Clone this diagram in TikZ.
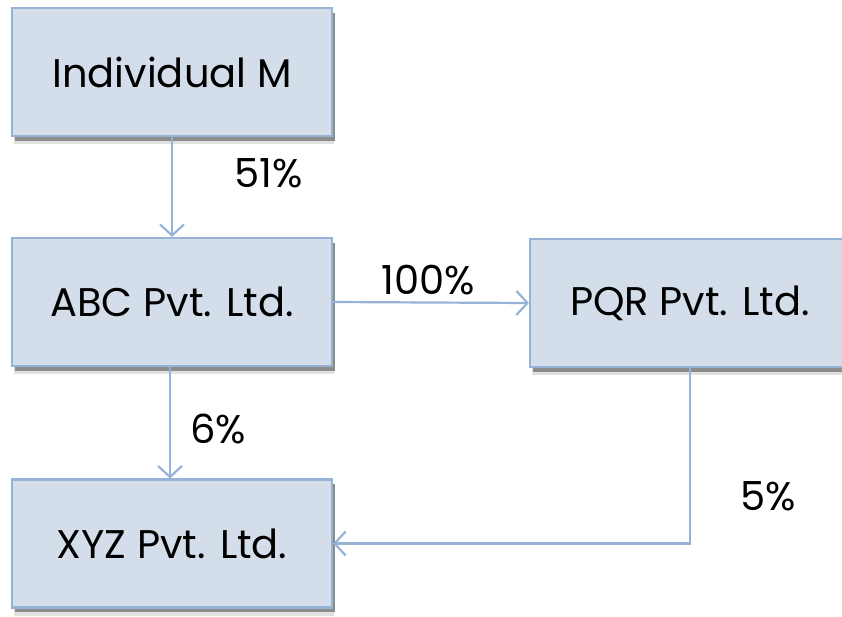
\documentclass[tikz,border=0pt]{standalone}
\usepackage{fontspec}
\setmainfont{Poppins}
\usetikzlibrary{arrows.meta}
\definecolor{boxfill}{RGB}{211,222,234}
\definecolor{boxline}{RGB}{149,179,215}
\definecolor{shadowdark}{RGB}{140,140,140}
\definecolor{shadowlight}{RGB}{225,225,225}
\tikzset{
  entity/.style={draw=boxline, fill=boxfill, line width=2.2pt, minimum width=320pt,
    minimum height=128pt, inner sep=0pt, font=\fontsize{40}{44}\selectfont,
    preaction={fill=shadowlight, draw=none, transform canvas={xshift=2pt, yshift=-8pt}},
    preaction={fill=shadowdark, draw=none, transform canvas={xshift=3pt, yshift=-4.5pt}}},
  link/.style={draw=boxline, line width=2.2pt, -{Straight Barb[length=11pt, width=24pt, line width=2.2pt]}},
  share/.style={font=\fontsize{40}{44}\selectfont, inner sep=0pt}
}
\begin{document}
\begin{tikzpicture}[x=1pt, y=-1pt]
  \useasboundingbox (0,0) rectangle (842,616);
  \clip (0,0) rectangle (842,616);
  % ownership entities
  \node[entity] (M)   at (172,72)  {Individual M};
  \node[entity] (ABC) at (172,302) {ABC Pvt. Ltd.};
  \node[entity] (PQR) at (690,303) {PQR Pvt. Ltd.};
  \node[entity] (XYZ) at (172,543.5) {XYZ Pvt. Ltd.};
  % holdings
  \draw[link] (M.south) -- (ABC.north);
  \draw[link] (ABC.east) -- (PQR.west);
  \draw[link] ([xshift=-2pt]ABC.south) -- ([xshift=-2pt]XYZ.north);
  \coordinate (bend) at (PQR.south |- XYZ.east);
  \draw[link] (PQR.south) -- (bend) -- (XYZ.east);
  % percentages
  \node[share] (p51)  at (269,173) {51\%};
  \node[share] (p100) at (428,280) {100\%};
  \node[share] (p6)   at (218,429) {6\%};
  \node[share] (p5)   at (768,496) {5\%};
\end{tikzpicture}
\end{document}
